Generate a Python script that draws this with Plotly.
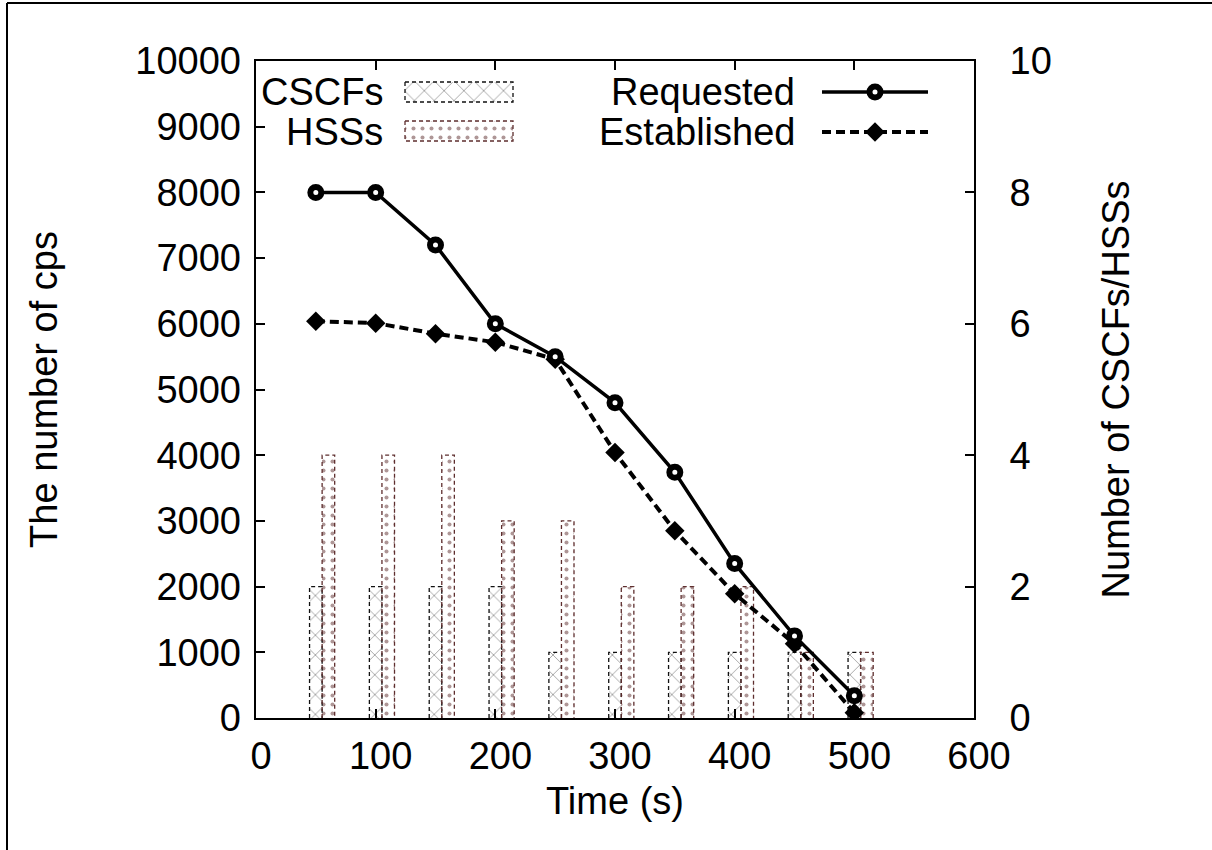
import plotly.graph_objects as go

# Time points (s)
time_s = [50, 100, 150, 200, 250, 300, 350, 400, 450, 500]

# Calls per second
requested = [8000, 8000, 7200, 6000, 5500, 4800, 3740, 2350, 1250, 340]
established = [6040, 6010, 5850, 5720, 5460, 4040, 2850, 1890, 1130, 80]

# Number of active servers
cscfs = [2, 2, 2, 2, 1, 1, 1, 1, 1, 1]
hsss = [4, 4, 4, 3, 3, 2, 2, 2, 1, 1]

FONT = "Liberation Sans, Arial, Helvetica, sans-serif"
FS = 38
BAR_W = 10.5
CSCF_COL = "#111111"
HSS_COL = "#5e2e2e"
CSCF_PAT = dict(shape="x", fgcolor=CSCF_COL, bgcolor="white", size=14, solidity=0.1)
HSS_PAT = dict(shape=".", fgcolor=HSS_COL, bgcolor="white", size=9, solidity=0.16)

W, H = 1212, 850
ML, MR, MT, MB = 256, 238, 61, 132
PW, PH = W - ML - MR, H - MT - MB

fig = go.Figure()


def outline(xc, val, width):
    xs, ys = [], []
    for x, v in zip(xc, val):
        x0, x1 = x - width / 2, x + width / 2
        xs += [x0, x0, x1, x1, None]
        ys += [0, v, v, 0, None]
    return xs, ys


cscf_x = list(time_s)
hss_x = [t + BAR_W for t in time_s]

# Server bars (right axis, base layer)
fig.add_trace(go.Bar(
    x=cscf_x, y=cscfs, width=BAR_W, yaxis="y", name="CSCFs",
    marker=dict(color="white", line=dict(width=0), pattern=CSCF_PAT),
    showlegend=False,
))
fig.add_trace(go.Bar(
    x=hss_x, y=hsss, width=BAR_W, yaxis="y", name="HSSs",
    marker=dict(color="white", line=dict(width=0), pattern=HSS_PAT),
    showlegend=False,
))
for xc, val, col in [(cscf_x, cscfs, CSCF_COL), (hss_x, hsss, HSS_COL)]:
    ox, oy = outline(xc, val, BAR_W)
    fig.add_trace(go.Scatter(
        x=ox, y=oy, yaxis="y", mode="lines",
        line=dict(color=col, width=1.3, dash="4px,3px"),
        hoverinfo="skip", showlegend=False,
    ))

# cps lines (left axis, drawn above the bars)
fig.add_trace(go.Scatter(
    x=time_s, y=established, yaxis="y2", mode="lines+markers", name="Established",
    line=dict(color="black", width=4, dash="9px,5px"),
    marker=dict(symbol="diamond", size=15, color="black"),
    showlegend=False,
))
fig.add_trace(go.Scatter(
    x=time_s, y=requested, yaxis="y2", mode="lines+markers", name="Requested",
    line=dict(color="black", width=3.5),
    marker=dict(symbol="circle", size=11, color="white",
                line=dict(color="black", width=6)),
    showlegend=False,
))

# Legend drawn on a hidden pixel-space axis over the plot area
sw_x0, sw_x1 = 149, 257
rows = [(21, 41), (60, 80)]
for (y0, y1), col, pat in [(rows[0], CSCF_COL, CSCF_PAT), (rows[1], HSS_COL, HSS_PAT)]:
    fig.add_trace(go.Scatter(
        x=[sw_x0, sw_x0, sw_x1, sw_x1, sw_x0], y=[y0, y1, y1, y0, y0],
        xaxis="x3", yaxis="y3", mode="lines", fill="toself",
        fillcolor="white", fillpattern=pat,
        line=dict(color=col, width=1.3, dash="4px,3px"),
        hoverinfo="skip", showlegend=False,
    ))

ln_x0, ln_x1 = 566, 672
ln_mid = (ln_x0 + ln_x1) / 2
fig.add_trace(go.Scatter(
    x=[ln_x0, ln_mid, ln_x1], y=[31, 31, 31], xaxis="x3", yaxis="y3",
    mode="lines", line=dict(color="black", width=3.5),
    hoverinfo="skip", showlegend=False,
))
fig.add_trace(go.Scatter(
    x=[ln_mid], y=[31], xaxis="x3", yaxis="y3", mode="markers",
    marker=dict(symbol="circle", size=11, color="white", line=dict(color="black", width=6)),
    hoverinfo="skip", showlegend=False,
))
fig.add_trace(go.Scatter(
    x=[ln_x0, ln_mid, ln_x1], y=[71, 71, 71], xaxis="x3", yaxis="y3",
    mode="lines", line=dict(color="black", width=4, dash="9px,5px"),
    hoverinfo="skip", showlegend=False,
))
fig.add_trace(go.Scatter(
    x=[ln_mid], y=[71], xaxis="x3", yaxis="y3", mode="markers",
    marker=dict(symbol="diamond", size=15, color="black"),
    hoverinfo="skip", showlegend=False,
))

legend_labels = [("CSCFs", 129, 31), ("HSSs", 129, 71),
                 ("Requested", 541, 31), ("Established", 541, 71)]
for txt, x, y in legend_labels:
    fig.add_annotation(x=x, y=y, xref="x3", yref="y3", text=txt,
                       showarrow=False, xanchor="right", yanchor="middle",
                       font=dict(family=FONT, size=FS, color="black"))

axis_common = dict(
    tickfont=dict(family=FONT, size=FS, color="black"),
    ticks="inside", ticklen=9, tickwidth=1.5, tickcolor="black",
    showgrid=False, zeroline=False,
    linecolor="black", linewidth=2,
)

fig.update_layout(
    width=W, height=H,
    margin=dict(l=ML, r=MR, t=MT, b=MB, pad=0),
    paper_bgcolor="white", plot_bgcolor="white",
    barmode="overlay", bargap=0,
    showlegend=False,
    font=dict(family=FONT, size=FS, color="black"),
    xaxis=dict(range=[0, 600], tickvals=[0, 100, 200, 300, 400, 500, 600],
               showline=True, mirror="ticks", ticklabelshift=5, ticklabelstandoff=3,
               title=dict(text="Time (s)", font=dict(family=FONT, size=FS), standoff=12),
               **axis_common),
    yaxis=dict(range=[0, 10], dtick=2, side="right",
               showline=True, mirror=True, ticklabelstandoff=26,
               title=dict(text="Number of CSCFs/HSSs", font=dict(family=FONT, size=FS), standoff=52),
               **axis_common),
    yaxis2=dict(range=[0, 10000], dtick=1000, tickformat="d", overlaying="y", side="left",
                showline=False, ticklabelstandoff=14,
                title=dict(text="The number of cps", font=dict(family=FONT, size=FS), standoff=66),
                **axis_common),
    xaxis3=dict(range=[0, PW], overlaying="x", visible=False, fixedrange=True),
    yaxis3=dict(range=[PH, 0], overlaying="y", visible=False, fixedrange=True),
)

# Outer frame (top and left edges)
def px_x(p):
    return (p - ML) / PW


def px_y(p):
    return (H - MB - p) / PH


fig.add_shape(type="line", xref="paper", yref="paper",
              x0=px_x(7), x1=px_x(W + 5), y0=px_y(3), y1=px_y(3),
              line=dict(color="black", width=2))
fig.add_shape(type="line", xref="paper", yref="paper",
              x0=px_x(7), x1=px_x(7), y0=px_y(3), y1=px_y(H + 5),
              line=dict(color="black", width=2))

fig.write_html("out.html")
